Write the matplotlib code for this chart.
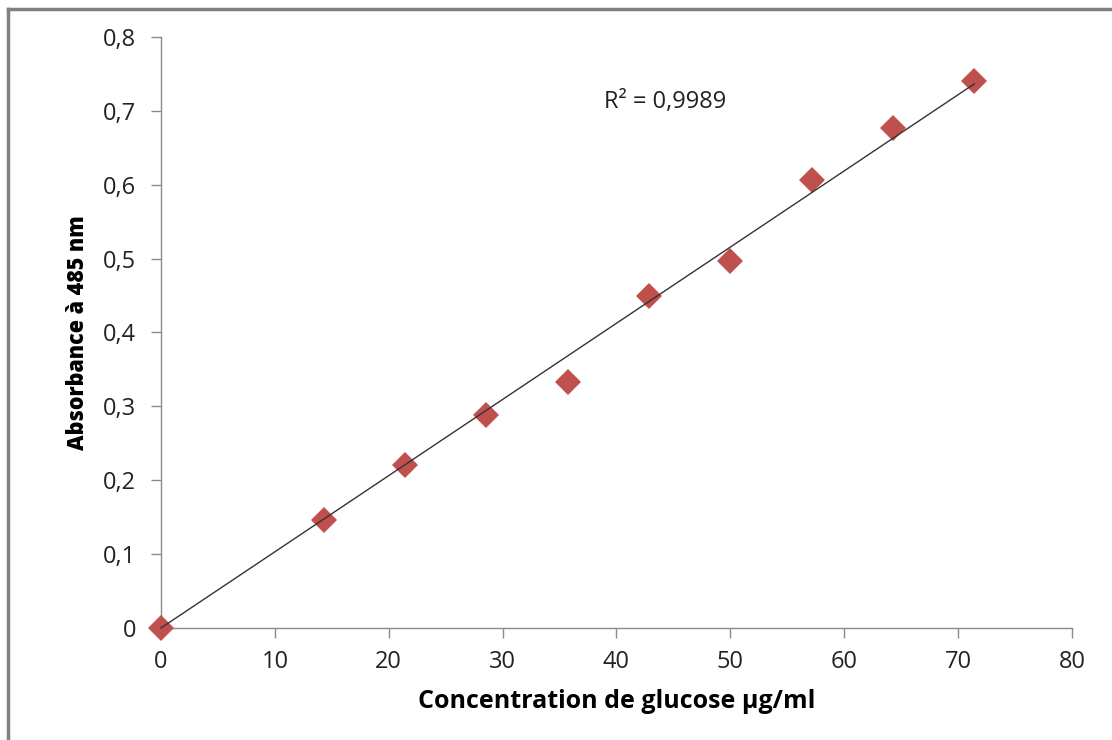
import numpy as np
import matplotlib.pyplot as plt
from matplotlib.lines import Line2D
from matplotlib.ticker import FuncFormatter

# Gamme étalon du glucose
concentration = [0, 14.29, 21.43, 28.57, 35.71, 42.86, 50.0, 57.14, 64.29, 71.43]
absorbance = [0.0, 0.146, 0.221, 0.288, 0.333, 0.449, 0.497, 0.606, 0.677, 0.740]
r2_label = 'R² = 0,9989'

plt.rcParams['font.family'] = ['Open Sans', 'DejaVu Sans']

x = np.array(concentration)
y = np.array(absorbance)
# droite de tendance passant par l'origine
pente = np.sum(x * y) / np.sum(x * x)

fig = plt.figure(figsize=(11.12, 7.40), dpi=100)
ax = fig.add_axes([0.1448, 0.1514, 0.8192, 0.7986])

ax.plot(x, y, linestyle='none', marker='D', markersize=13,
        color='#C0504D', markeredgewidth=0, zorder=3, clip_on=False)
xs = np.array([0, x.max()])
ax.plot(xs, pente * xs, color='#333333', linewidth=1.0, zorder=4, clip_on=False)

ax.text(38.9, 0.712, r2_label, fontsize=17, color='#222222', va='center')

ax.set_xlim(0, 80)
ax.set_ylim(0, 0.8)
ax.set_xticks(np.arange(0, 81, 10))
ax.set_yticks(np.arange(0, 0.81, 0.1))
ax.yaxis.set_major_formatter(FuncFormatter(
    lambda v, p: '0' if abs(v) < 1e-9 else f'{v:.1f}'.replace('.', ',')))

for s in ['top', 'right']:
    ax.spines[s].set_visible(False)
for s in ['left', 'bottom']:
    ax.spines[s].set_color('#8a8a8a')
    ax.spines[s].set_linewidth(1.0)
ax.tick_params(direction='out', length=7, width=1, color='#8a8a8a',
               labelsize=17, labelcolor='#222222')
ax.tick_params(axis='x', pad=9)
ax.tick_params(axis='y', pad=11)

ax.set_xlabel('Concentration de glucose µg/ml', fontsize=18,
              fontweight='bold', labelpad=11)
ax.set_ylabel('Absorbance à 485 nm', fontsize=15.5, fontweight='heavy',
              labelpad=9)

# cadre gris en haut et à gauche
fig.add_artist(Line2D([0.007, 1.0], [0.988, 0.988], transform=fig.transFigure,
                      color='#808080', linewidth=2.5))
fig.add_artist(Line2D([0.007, 0.007], [0.0, 0.988], transform=fig.transFigure,
                      color='#808080', linewidth=2.5))

fig.savefig('out.png', dpi=100)
